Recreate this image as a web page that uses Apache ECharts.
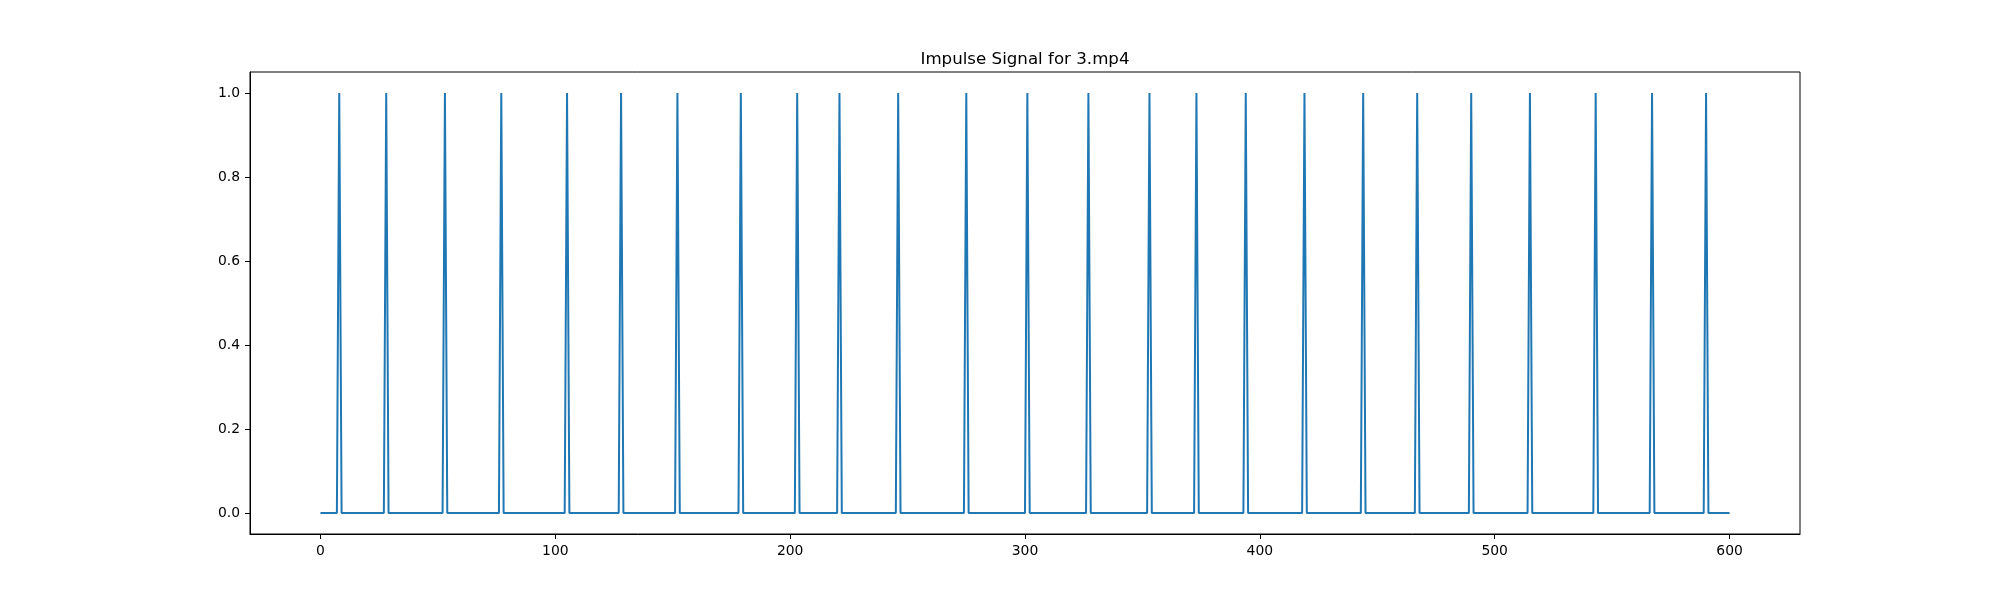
<!DOCTYPE html>
<html>
<head>
<meta charset="utf-8">
<script src="https://cdn.jsdelivr.net/npm/echarts@6/dist/echarts.min.js"></script>
<style>html,body{margin:0;padding:0;background:#fff}#c{width:2000px;height:600px}</style>
</head>
<body>
<div id="c"></div>
<script>
// Frames (0..600) at which the impulse signal equals 1; all other frames are 0
const spikeFrames = [8, 28, 53, 77, 105, 128, 152, 179, 203, 221, 246, 275, 301, 327, 353, 373, 394, 419, 444, 467, 490, 515, 543, 567, 590];
const frameCount = 601;
const xTicks = [0, 100, 200, 300, 400, 500, 600];
const yTicks = [0, 0.2, 0.4, 0.6, 0.8, 1.0];
const titleText = 'Impulse Signal for 3.mp4';

const spikeSet = new Set(spikeFrames);
const seriesData = [];
for (let i = 0; i < frameCount; i++) seriesData.push([i, spikeSet.has(i) ? 1 : 0]);

const font = 'DejaVu Sans';
const chart = echarts.init(document.getElementById('c'), null, {renderer: 'canvas'});
chart.setOption({
  animation: false,
  backgroundColor: '#ffffff',
  title: {
    text: titleText,
    left: 1025,
    top: 51,
    padding: 0,
    textAlign: 'center',
    textStyle: {fontFamily: font, fontSize: 16.67, fontWeight: 'normal', color: '#000'}
  },
  grid: {left: 250, right: 200, top: 72, bottom: 66, show: true, borderColor: '#000', borderWidth: 1, backgroundColor: 'transparent'},
  xAxis: {
    type: 'value', min: -30, max: 630,
    axisLine: {show: true, onZero: false, lineStyle: {color: '#000', width: 1}},
    axisTick: {show: true, length: 5, lineStyle: {color: '#000'}, customValues: xTicks},
    axisLabel: {show: true, margin: 10, color: '#000', fontFamily: font, fontSize: 13.9, customValues: xTicks, formatter: v => String(v)},
    splitLine: {show: false}
  },
  yAxis: {
    type: 'value', min: -0.05, max: 1.05,
    axisLine: {show: true, onZero: false, lineStyle: {color: '#000', width: 1}},
    axisTick: {show: true, length: 5, lineStyle: {color: '#000'}, customValues: yTicks},
    axisLabel: {show: true, margin: 10, color: '#000', fontFamily: font, fontSize: 13.9, customValues: yTicks, formatter: v => v.toFixed(1)},
    splitLine: {show: false}
  },
  series: [{
    type: 'line',
    data: seriesData,
    symbol: 'none',
    lineStyle: {color: '#1f77b4', width: 2},
    itemStyle: {color: '#1f77b4'}
  }]
});
</script>
</body>
</html>
